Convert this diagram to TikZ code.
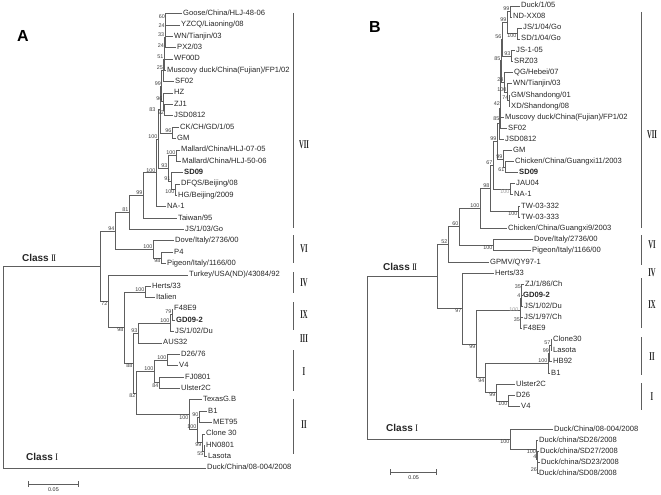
\documentclass[tikz,border=0pt]{standalone}
\usepackage{fontspec}
\setmainfont{Liberation Sans}
\newfontfamily\romanfont{Liberation Serif}
\usepackage{graphicx}
\usetikzlibrary{positioning}
\definecolor{TreeGray}{HTML}{5E5E5E}
\definecolor{LabelInk}{HTML}{262626}
\definecolor{BootGray}{HTML}{404040}
\definecolor{FaintGray}{HTML}{9C9C9C}
\newcommand\rn[1]{{\romanfont\scalebox{0.55}[1]{#1}}}

\tikzset{
  leaf/.style={anchor=west, inner sep=1pt, text height=5.6pt, text depth=1.6pt,
    font=\fontsize{7.6}{8}\selectfont, text=LabelInk},
  boot/.style={anchor=south east, inner sep=0.4pt, font=\fontsize{5.4}{6}\selectfont, text=BootGray},
  bootb/.style={boot, anchor=north east},
  branch/.style={draw=TreeGray, line width=0.55pt},
  grpbar/.style={draw=TreeGray, line width=0.9pt},
  grplabel/.style={font=\bfseries\fontsize{12}{13}\selectfont, text=LabelInk},
  classlabel/.style={font=\bfseries\fontsize{10}{12}\selectfont, text=LabelInk},
  panel/.style={font=\bfseries\fontsize{16}{18}\selectfont},
  scalelabel/.style={font=\fontsize{5.4}{6}\selectfont, text=LabelInk}
}

\begin{document}
\begin{tikzpicture}[x=1pt,y=-1pt]
\useasboundingbox (0,0) rectangle (661,495);

% ---------------- panel A ----------------
\node[panel] (labA) at (23,35.5) {A};

% tips
\node[leaf] (aGoose) at (182,13.5) {Goose/China/HLJ-48-06};
\node[leaf] (aYZCQ) at (180,24.9) {YZCQ/Liaoning/08};
\node[leaf] (aWN) at (173,36.2) {WN/Tianjin/03};
\node[leaf] (aPX) at (176,47.6) {PX2/03};
\node[leaf] (aWF) at (173,58.9) {WF00D};
\node[leaf] (aMus) at (166,70.3) {Muscovy duck/China(Fujian)/FP1/02};
\node[leaf] (aSF) at (174,81.7) {SF02};
\node[leaf] (aHZ) at (173,93.0) {HZ};
\node[leaf] (aZJ) at (173,104.4) {ZJ1};
\node[leaf] (aJSD) at (173,115.7) {JSD0812};
\node[leaf] (aCK) at (179,127.1) {CK/CH/GD/1/05};
\node[leaf] (aGM) at (176,138.5) {GM};
\node[leaf] (aMa) at (180,149.8) {Mallard/China/HLJ-07-05};
\node[leaf] (aMb) at (181,161.2) {Mallard/China/HLJ-50-06};
\node[leaf] (aSD) at (183,172.5) {\textbf{SD09}};
\node[leaf] (aDF) at (180,183.9) {DFQS/Beijing/08};
\node[leaf] (aHG) at (177,195.3) {HG/Beijing/2009};
\node[leaf] (aNA) at (166,206.6) {NA-1};
\node[leaf] (aTW) at (177,218.0) {Taiwan/95};
\node[leaf] (aJSGo) at (184,229.3) {JS/1/03/Go};
\node[leaf] (aDove) at (174,240.7) {Dove/Italy/2736/00};
\node[leaf] (aP4) at (173,252.1) {P4};
\node[leaf] (aPig) at (166,263.4) {Pigeon/Italy/1166/00};
\node[leaf] (aTur) at (188,274.8) {Turkey/USA(ND)/43084/92};
\node[leaf] (aHer) at (151,286.1) {Herts/33};
\node[leaf] (aIta) at (155,297.5) {Italien};
\node[leaf] (aF48) at (173,308.9) {F48E9};
\node[leaf] (aGD) at (175,320.2) {\textbf{GD09-2}};
\node[leaf] (aJSDu) at (174,331.6) {JS/1/02/Du};
\node[leaf] (aAUS) at (162,342.9) {AUS32};
\node[leaf] (aD26) at (180,354.3) {D26/76};
\node[leaf] (aV4) at (178,365.7) {V4};
\node[leaf] (aFJ) at (184,377.0) {FJ0801};
\node[leaf] (aUl) at (180,388.4) {Ulster2C};
\node[leaf] (aTex) at (202,399.7) {TexasG.B};
\node[leaf] (aB1) at (207,411.1) {B1};
\node[leaf] (aMET) at (212,422.5) {MET95};
\node[leaf] (aClo) at (205,433.8) {Clone 30};
\node[leaf] (aHN) at (205,445.2) {HN0801};
\node[leaf] (aLa) at (207,456.5) {Lasota};
\node[leaf] (aDuck) at (206,467.9) {Duck/China/08-004/2008};

% inner nodes
\coordinate (at1) at (165.6,19.2);
\coordinate (at2) at (165.2,27.7);
\coordinate (at3) at (164.8,37.6);
\coordinate (at4) at (164.4,48.3);
\coordinate (at5) at (164.0,59.3);
\coordinate (at6) at (163.6,70.5);
\coordinate (ah1) at (164.5,110.0);
\coordinate (ah2) at (163.0,101.5);
\coordinate (at7) at (161.5,86.0);
\coordinate (ac1) at (172,132.8);
\coordinate (at8) at (160,109.4);
\coordinate (am1) at (176,155.5);
\coordinate (ad1) at (175,189.6);
\coordinate (ad2) at (171,181.0);
\coordinate (ad3) at (168,168.3);
\coordinate (av1) at (158,138.9);
\coordinate (aVII) at (156,172.7);
\coordinate (an99) at (143,195.4);
\coordinate (an81) at (129,212.4);
\coordinate (ap1) at (161,257.8);
\coordinate (ap2) at (153,249.2);
\coordinate (an94) at (115,230.8);
\coordinate (ahi) at (145,291.8);
\coordinate (ai1) at (172,314.6);
\coordinate (ai2) at (170,323.1);
\coordinate (an93) at (138,333.0);
\coordinate (adv) at (167,360.0);
\coordinate (afu) at (159,382.7);
\coordinate (anI) at (154,371.4);
\coordinate (ab90) at (199,416.8);
\coordinate (ahl) at (204,450.9);
\coordinate (ac99) at (202,442.3);
\coordinate (aIIb) at (197,429.6);
\coordinate (aIIa) at (189,414.7);
\coordinate (an82) at (136,393.0);
\coordinate (an88) at (133,363.2);
\coordinate (an98) at (124,327.5);
\coordinate (an72) at (108,301.2);
\coordinate (acII) at (100,266.0);
\coordinate (aroot) at (3,367.0);

\foreach \p/\c in {at1/aGoose, at1/aYZCQ, at2/at1, at2/aWN, at3/at2, at3/aPX,
    at4/at3, at4/aWF, at5/at4, at5/aMus, at6/at5, at6/aSF, ah1/aZJ, ah1/aJSD,
    ah2/aHZ, ah2/ah1, at7/at6, at7/ah2, ac1/aCK, ac1/aGM, at8/at7, at8/ac1,
    am1/aMa, am1/aMb, ad1/aDF, ad1/aHG, ad2/aSD, ad2/ad1, ad3/am1, ad3/ad2,
    av1/at8, av1/ad3, aVII/av1, aVII/aNA, an99/aVII, an99/aTW, an81/an99,
    an81/aJSGo, ap1/aP4, ap1/aPig, ap2/aDove, ap2/ap1, an94/an81, an94/ap2,
    ahi/aHer, ahi/aIta, ai1/aF48, ai1/aGD, ai2/ai1, ai2/aJSDu, an93/ai2,
    an93/aAUS, adv/aD26, adv/aV4, afu/aFJ, afu/aUl, anI/adv, anI/afu,
    ab90/aB1, ab90/aMET, ahl/aHN, ahl/aLa, ac99/aClo, ac99/ahl, aIIb/ab90,
    aIIb/ac99, aIIa/aTex, aIIa/aIIb, an82/anI, an82/aIIa, an88/an93,
    an88/an82, an98/ahi, an98/an88, an72/aTur, an72/an98, acII/an94,
    acII/an72, aroot/acII, aroot/aDuck}
  \draw[branch] (\p) |- (\c);

% bootstrap values
\foreach \n/\v in {at1/60, at2/24, at3/33, at4/24, at5/51, at6/25, at7/99,
    ah2/96, ac1/96, am1/100, ad2/91, ad3/93, av1/100, aVII/100, an99/99,
    an81/81, ap2/100, an94/94, ahi/100, ai1/79, ai2/100, an93/93, adv/100,
    anI/100, ab90/90, aIIb/100}
  \node[boot] at (\n) {\v};
\foreach \n/\v in {ah1/92, ad1/100, ap1/98, afu/84, ahl/55, ac99/99,
    aIIa/100, an82/82, an88/88, an98/98, an72/72}
  \node[bootb] at (\n) {\v};
\node[boot, anchor=east, xshift=-4pt] at (at8) {83};

\node[classlabel] (clsIIa) at (39,258) {Class \rn{II}};
\node[classlabel] (clsIa) at (42,457) {Class \rn{I}};

% groups
\foreach \ya/\yb in {13/228, 235/263, 272/293, 302/330, 350/391, 399/454}
  \draw[grpbar] (293,\ya) -- (293,\yb);
\foreach \yl/\t in {145/VII, 249/VI, 283/IV, 315/IX, 339/III, 372/I, 425/II}
  \node[grplabel] (grpA\t) at (304,\yl) {\rn{\t}};

% scale
\coordinate (sbAl) at (28,484);
\coordinate (sbAr) at (79,484);
\draw[branch, |-|] (sbAl) -- (sbAr);
\node[scalelabel] (sbAt) at (53.5,490) {0.05};

% ---------------- panel B ----------------
\node[panel] (labB) at (375,27) {B};

% tips
\node[leaf] (bDuck) at (520,6) {Duck/1/05};
\node[leaf] (bND) at (512,17) {ND-XX08};
\node[leaf] (bJSGo) at (522,28) {JS/1/04/Go};
\node[leaf] (bSDGo) at (520,39) {SD/1/04/Go};
\node[leaf] (bJS105) at (515,50.5) {JS-1-05};
\node[leaf] (bSRZ) at (513,61.5) {SRZ03};
\node[leaf] (bQG) at (513,72.5) {QG/Hebei/07};
\node[leaf] (bWN) at (512,83.5) {WN/Tianjin/03};
\node[leaf] (bGMS) at (510,95) {GM/Shandong/01};
\node[leaf] (bXD) at (510,106) {XD/Shandong/08};
\node[leaf] (bMus) at (504,117) {Muscovy duck/China(Fujian)/FP1/02};
\node[leaf] (bSF) at (507,128) {SF02};
\node[leaf] (bJSD) at (504,139) {JSD0812};
\node[leaf] (bGM) at (512,150.5) {GM};
\node[leaf] (bCh11) at (514,161.5) {Chicken/China/Guangxi11/2003};
\node[leaf] (bSD) at (518,172.5) {\textbf{SD09}};
\node[leaf] (bJAU) at (515,183.5) {JAU04};
\node[leaf] (bNA) at (513,194.5) {NA-1};
\node[leaf] (bTWa) at (520,206) {TW-03-332};
\node[leaf] (bTWb) at (520,217) {TW-03-333};
\node[leaf] (bCh9) at (507,228) {Chicken/China/Guangxi9/2003};
\node[leaf] (bDove) at (533,239) {Dove/Italy/2736/00};
\node[leaf] (bPig) at (531,250.5) {Pigeon/Italy/1166/00};
\node[leaf] (bGP) at (489,262) {GPMV/QY97-1};
\node[leaf] (bHer) at (494,273) {Herts/33};
\node[leaf] (bZJ) at (524,284) {ZJ/1/86/Ch};
\node[leaf] (bGD) at (522,295) {\textbf{GD09-2}};
\node[leaf] (bJSDu) at (523,306) {JS/1/02/Du};
\node[leaf] (bJSCh) at (523,317) {JS/1/97/Ch};
\node[leaf] (bF48) at (522,328) {F48E9};
\node[leaf] (bClo) at (552,339) {Clone30};
\node[leaf] (bLa) at (552,350.5) {Lasota};
\node[leaf] (bHB) at (552,361.5) {HB92};
\node[leaf] (bB1) at (550,373) {B1};
\node[leaf] (bUl) at (515,384) {Ulster2C};
\node[leaf] (bD26) at (515,395) {D26};
\node[leaf] (bV4) at (520,406.5) {V4};
\node[leaf] (bDk) at (553,429) {Duck/China/08-004/2008};
\node[leaf] (bS26) at (538,440) {Duck/china/SD26/2008};
\node[leaf] (bS27) at (539,451) {Duck/china/SD27/2008};
\node[leaf] (bS23) at (540,462) {Duck/china/SD23/2008};
\node[leaf] (bS08) at (538,473) {Duck/china/SD08/2008};

% inner nodes
\coordinate (ba1) at (510,11.5);
\coordinate (ba2) at (517,33.5);
\coordinate (ba3) at (507,22.5);
\coordinate (ba5) at (511,56.0);
\coordinate (bn74) at (509,100.5);
\coordinate (bnq) at (507,92.0);
\coordinate (bn24) at (504,82.2);
\coordinate (bs1) at (502,39.2);
\coordinate (bs2) at (501,60.7);
\coordinate (bs3) at (500.5,88.9);
\coordinate (bs4) at (500,108.4);
\coordinate (bs5) at (499,123.7);
\coordinate (bg1) at (505,167.0);
\coordinate (bg2) at (503,158.8);
\coordinate (bs6) at (497,141.2);
\coordinate (bjn) at (510,189.0);
\coordinate (bn67) at (493,165.1);
\coordinate (btw) at (518,211.5);
\coordinate (bn98) at (490,188.3);
\coordinate (bVII) at (480,208.2);
\coordinate (bVI) at (493,244.8);
\coordinate (bn60) at (459,226.5);
\coordinate (bn52) at (448,244.2);
\coordinate (bia) at (521.5,289.5);
\coordinate (bib) at (521,297.8);
\coordinate (bic) at (520.5,322.5);
\coordinate (bid) at (520,310.1);
\coordinate (bcl) at (551,344.8);
\coordinate (bch) at (549.5,353.1);
\coordinate (bcb) at (548,363.1);
\coordinate (bdv) at (508,400.8);
\coordinate (bnI) at (496,392.4);
\coordinate (bn94) at (485,377.7);
\coordinate (bn99) at (476,343.9);
\coordinate (bn97) at (462,308.5);
\coordinate (bcII) at (437,276.3);
\coordinate (bs26) at (537.5,467.5);
\coordinate (bs4x) at (537,459.3);
\coordinate (bsdn) at (536.5,449.6);
\coordinate (bcI) at (510,439.3);
\coordinate (broot) at (367,357.8);

\foreach \p/\c in {ba1/bDuck, ba1/bND, ba2/bJSGo, ba2/bSDGo, ba3/ba1, ba3/ba2,
    ba5/bJS105, ba5/bSRZ, bn74/bGMS, bn74/bXD, bnq/bWN, bnq/bn74, bn24/bQG,
    bn24/bnq, bs1/ba3, bs1/ba5, bs2/bs1, bs2/bn24, bs3/bs2, bs3/bMus,
    bs4/bs3, bs4/bSF, bs5/bs4, bs5/bJSD, bg1/bCh11, bg1/bSD, bg2/bGM,
    bg2/bg1, bs6/bs5, bs6/bg2, bjn/bJAU, bjn/bNA, bn67/bs6, bn67/bjn,
    btw/bTWa, btw/bTWb, bn98/bn67, bn98/btw, bVII/bn98, bVII/bCh9,
    bVI/bDove, bVI/bPig, bn60/bVII, bn60/bVI, bn52/bn60, bn52/bGP,
    bia/bZJ, bia/bGD, bib/bia, bib/bJSDu, bic/bJSCh, bic/bF48, bid/bib,
    bid/bic, bcl/bClo, bcl/bLa, bch/bcl, bch/bHB, bcb/bch, bcb/bB1,
    bdv/bD26, bdv/bV4, bnI/bUl, bnI/bdv, bn94/bcb, bn94/bnI, bn99/bid,
    bn99/bn94, bn97/bHer, bn97/bn99, bcII/bn52, bcII/bn97, bs26/bS23,
    bs26/bS08, bs4x/bS27, bs4x/bs26, bsdn/bS26, bsdn/bs4x, bcI/bDk,
    bcI/bsdn, broot/bcII, broot/bcI}
  \draw[branch] (\p) |- (\c);

% bootstrap values
\foreach \n/\v in {ba1/99, ba3/99, ba5/93, bn74/74, bnq/100, bn24/24, bs1/56,
    bs2/85, bg2/99, bs6/99, bn67/67, bn98/98, bVII/100,
    bn60/60, bn52/52, bia/35, bib/4, bic/35, bcl/57, bch/99, bcb/100, bs4x/4}
  \node[boot] at (\n) {\v};
\foreach \n/\v in {ba2/100, bg1/61, btw/100, bVI/100, bdv/100, bnI/99,
    bn94/94, bn99/99, bn97/97, bs26/26, bsdn/100, bcI/100}
  \node[bootb] at (\n) {\v};
\node[bootb, yshift=-12pt] at (bs3) {42};
\node[bootb, yshift=-8pt] at (bs4) {85};
\node[bootb, text=FaintGray] at (bjn) {100};
\node[boot, anchor=east, xshift=-1pt, text=FaintGray] at (bid) {100};

\node[classlabel] (clsIIb) at (400,267) {Class \rn{II}};
\node[classlabel] (clsIb) at (402,428) {Class \rn{I}};

% groups
\foreach \ya/\yb in {12/228, 235/265, 278/328, 337/375, 383/410}
  \draw[grpbar] (641,\ya) -- (641,\yb);
\foreach \yl/\t in {135/VII, 245/VI, 273/IV, 305/IX, 357/II, 397/I}
  \node[grplabel] (grpB\t) at (652,\yl) {\rn{\t}};

% scale
\coordinate (sbBl) at (390,472);
\coordinate (sbBr) at (437,472);
\draw[branch, |-|] (sbBl) -- (sbBr);
\node[scalelabel] (sbBt) at (413.5,478) {0.05};
\end{tikzpicture}
\end{document}
